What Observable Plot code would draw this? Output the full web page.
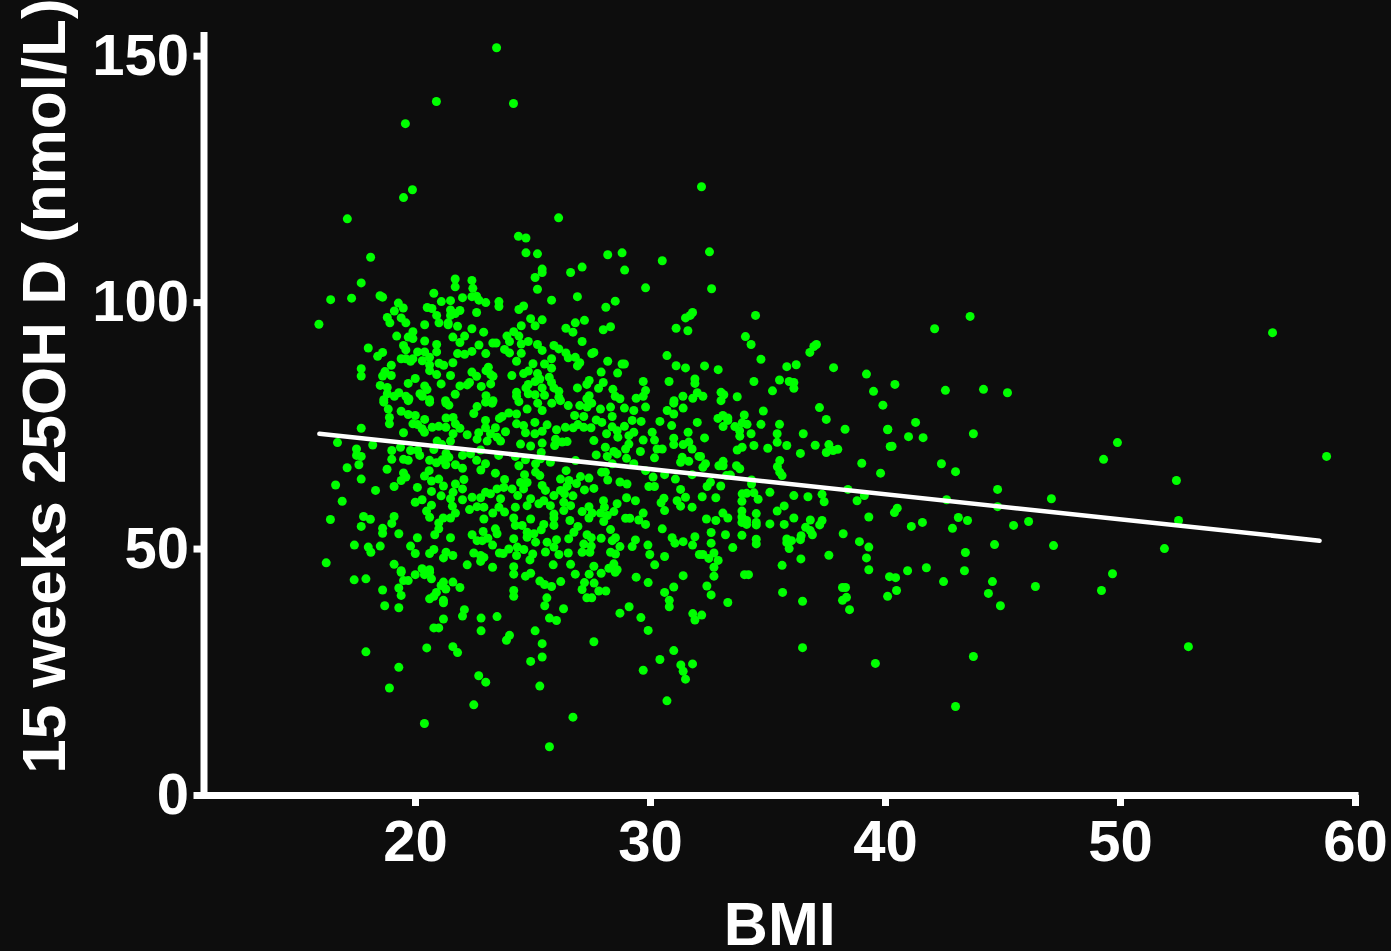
<!DOCTYPE html>
<html><head><meta charset="utf-8">
<script src="https://cdn.jsdelivr.net/npm/d3@7"></script>
<script src="https://cdn.jsdelivr.net/npm/@observablehq/plot@0.6"></script>
<style>html,body{margin:0;padding:0;background:#0d0d0d;overflow:hidden}svg{display:block}</style>
</head><body><div id="chart"></div>
<script>
const xLabel = "BMI";
const yLabel = "15 weeks 25OH D (nmol/L)";
const xTicks = [20,30,40,50,60];
const yTicks = [0,50,100,150];
const fitLine = [[15.91,73.4],[58.47,51.7]];
const upperLeft = [[18.09,109.2],[17.69,104],[16.39,100.6],[17.28,100.9],[18.49,101.4],[18.6,101.1],[19.27,99.9],[19.48,98.9],[19.1,98.3],[18.8,97],[18.91,95.9],[19.39,96.9],[19.59,95.9],[15.89,95.6],[20.78,101.9],[21.69,104.8],[21.69,103.2],[22.4,104.5],[22.44,102.9],[22.4,101.2],[22.6,101.3],[22.7,100.5],[22.99,100],[22,101],[21.49,100.4],[21.1,100.2],[20.5,99],[20.7,98.8],[20.9,97.4],[21.49,98.5],[21.89,98.4],[21.69,97.8],[21.49,97.4],[21.39,95.9],[21,95.9],[20.39,95.5],[21.39,95.5],[21.79,95.2],[22.6,98],[22.4,94.7],[22.9,94],[23.55,100.2],[23.55,99.2],[19.89,94.1],[19.2,93.2],[19.69,93],[19.89,92.7],[20.39,92.2],[21.59,93],[22.09,93.2],[21.89,91.9],[20.9,91.5],[22.7,91.4],[23.29,91.8],[23.43,91.8],[17.99,90.8],[19.49,91.3],[19.59,90.4],[18.6,89.9],[18.39,89.1],[20.09,90],[20.39,90],[20.9,90],[22.4,90.1],[21.79,89.65],[22.09,89.5],[22.99,89.65],[19.39,88.6],[19.59,88.6],[19.89,88.6],[19.79,88.1],[20.29,88.2],[20.6,88.9],[20.6,87.35],[21,87.7],[21.2,87.3],[21.59,87.8],[18.97,87.3],[17.69,86.6],[17.69,85.1],[20.6,86.2],[20.9,85.4],[21.49,85.2],[22.4,85.9],[22.6,85.05],[23.1,86.9],[23,86.2],[23.2,85.4],[23.3,85.05],[18.7,86],[18.6,85.1],[18.97,85.2],[19.99,84.6],[19.69,83.6],[18.5,83.2],[18.8,82.8],[20.39,83.1],[20.49,82.35],[21.09,83.5],[21.89,83.1],[22.2,83.3],[22.3,83.8],[22.8,83],[23.2,83.5],[18.8,81.5],[19.29,81.7],[19.1,81],[19.59,81],[20.19,81.5],[20.29,81],[21.69,81.4],[23,81.1],[18.65,80.3],[19.72,80.5],[20.6,80.3],[21.28,80.1],[23.3,80.1]];
const upperMiddle = [[24.38,113.45],[24.7,113.1],[24.7,110.1],[25.19,109.9],[28.18,109.7],[28.79,110.1],[30.5,108.5],[25.39,106.8],[25.39,106.1],[27.09,107.2],[26.6,106.1],[28.9,106.6],[25.09,105.1],[25.19,102.7],[29.79,103],[25.79,100.5],[26.89,101.2],[28.5,100.3],[28.1,99.05],[24.6,99.3],[24.4,98.6],[31.79,98],[31.49,96.9],[31.69,97.4],[24.9,96.75],[25.39,96.5],[25.09,95.3],[24.5,95.3],[27.19,96.4],[26.8,95.9],[26.4,94.8],[26.7,94],[27.99,94.5],[28.3,95.1],[31.09,94.8],[31.59,94.3],[24.18,94.1],[23.89,93.2],[24.4,93.2],[24,92.1],[24.5,91.6],[24.8,92.1],[27.09,92.1],[25.19,91.5],[25.89,91.3],[26.1,90.6],[25.39,90.3],[23.79,90.5],[24,89.8],[24.5,89.7],[26.4,89.8],[26.5,88.8],[26.8,88.9],[27.5,89.65],[27.59,89.9],[25.79,88.6],[24.3,88.1],[25,87.6],[25.49,87.55],[28.18,88.1],[26.99,87.8],[26.89,87.15],[28.79,87.55],[28.89,87.55],[30.7,89.25],[31.09,87.2],[31.49,86.75],[25.79,86.7],[27.9,85.9],[28.6,85.7],[31.89,84.5],[31.89,83.6],[24.1,85.2],[24.6,85.6],[24.8,86.1],[25.19,85.6],[25.69,84.85],[29.69,84],[30.79,84],[25.29,84.5],[25.09,84],[25.79,83.8],[27.39,84.2],[27.29,83.4],[27.99,83.8],[26.89,82.7],[27.79,82.6],[24.8,83.4],[24.7,82.7],[25.39,82.7],[25.89,82.7],[26.1,82],[28.4,82.4],[29.79,82.15],[24.3,81.8],[24.3,81],[24.8,81.5],[25.09,81.3],[25.49,81.2],[26.1,80.8],[27.39,81.1],[28.5,81],[28.7,80.5],[29.39,80.6],[29.69,81],[31.38,81],[31.99,81.7],[31.8,80.6],[27.29,80.5],[31,80.1]];
const centerLeft = [[18.65,79.8],[18.84,78.4],[19.69,80.1],[20.6,79.8],[21.3,79.6],[21.42,79.2],[22.62,78.9],[22.98,79.8],[23.26,79.6],[22.48,77.5],[19.39,77.96],[19.69,77.3],[19.99,77.1],[20.39,76.3],[18.89,76.7],[18.89,75.4],[19.89,75.4],[20.09,75.25],[21.3,76.6],[21.6,76.7],[22.98,76.1],[23.57,76.5],[21.7,75.4],[21.89,74.5],[20.71,74.7],[20.99,74.9],[21.29,74.7],[20.38,73.7],[20.28,74.4],[17.69,74.5],[19.49,73.6],[21.6,73.4],[22.2,73.2],[22.69,73.6],[22.98,74.6],[23.4,74.6],[23.19,73.4],[23.47,72.7],[22.62,72.3],[23.05,71.9],[20.92,71.9],[21.49,71.9],[16.68,71.6],[18.18,71.1],[17.49,70.3],[21.12,71.2],[19.36,70.65],[18.99,70],[19.79,70],[20.09,70],[20.18,69],[20.78,70.2],[21.3,69.4],[22,69],[22.34,69.3],[22.77,70.1],[23.54,69],[17.49,69],[17.69,68.8],[18.99,68.2],[19.49,68.2],[19.69,68],[20.6,68],[21.13,68.1],[21.42,68.6],[22.6,68],[17.59,67.1],[20.89,67.5],[21.29,67.1],[21.7,67.1],[22.98,67.3],[17.09,66.5],[22,66.4],[22.78,66.05],[23.4,65.4],[18.79,66.2],[20.58,65.9],[20.38,64.8],[19.49,65.45],[19.39,63.9],[19.59,64.6],[17.69,64.2],[20.99,64.2],[20.68,63.8],[22.06,64.1],[16.6,63],[19.09,62.7],[20.08,62.5],[21.19,62.8],[21.7,63.2],[22,62.2],[18.3,61.9],[20.68,61.7],[21.6,61.5],[23.47,62.2],[22.98,61.5],[23.19,61.2],[21.09,60.8],[21.49,60.2],[22.77,60.4],[22.41,60.5],[22,60],[16.88,59.7],[20.28,60],[19.99,59.5],[20.68,58.9],[20.47,57.7],[21.57,58.7],[22.3,58],[22.62,58.6],[22.91,58.5],[23.55,58.5],[21.7,57.3],[23.29,57.3],[20.6,56.45],[21.18,56.3],[21.49,56.3],[16.38,56],[17.79,56.6],[18.08,56.05],[19.09,56.6],[18.99,55.2],[22.91,56.1],[17.69,54.6],[20.99,55.3],[18.6,54.2],[18.6,53.2],[20.99,54.1],[19.29,53.1],[23.4,54.1],[22.88,53.55],[20.82,52.9],[22.41,52.9],[20.08,52.3],[21.49,52.3],[23.08,52.2],[22.62,51.7],[22.84,51.7],[23.47,53.1],[17.4,50.8],[18.5,50.6],[19.79,50.6],[23.28,50.8],[17.99,50.4],[18.1,49.35],[19.99,49.1],[20.78,49.9],[20.6,49.1],[21.3,49.35],[21.59,48.7],[21.19,48.2],[22.48,49.2],[22.77,48.7],[22.91,48.3],[22.77,47.5],[23.57,49.2],[16.2,47.2],[19.09,46.9],[22.2,46.8],[23.28,46.3],[20.28,46],[20.6,45.8],[19.39,45.6]];
const centerMiddle = [[24.4,79.9],[25.2,79.6],[25.8,79.6],[26.17,80.1],[26.5,79.1],[26.99,79.1],[27.3,78.8],[27.5,79.6],[27.87,78.4],[28.3,78.8],[28.89,78.6],[29.29,78.1],[29.79,78.8],[30.99,79.6],[31.39,78.6],[30.71,78.1],[30.99,77.4],[24.75,78.4],[25.39,78.1],[23.97,77.6],[24.3,77.4],[23.69,76.9],[26.77,77.1],[27.16,76.9],[28.37,76.9],[29.22,76.1],[27.69,76.2],[27.93,75.7],[29.6,75.9],[30.4,75.9],[31.99,75.7],[24.3,75.4],[24.6,75.05],[25.08,75.7],[25.6,75.2],[28.89,74.9],[28.37,74.8],[30.9,75.05],[26.38,74.7],[26.71,74.6],[26.91,75.25],[27.16,74.7],[27.47,74.6],[26,74.2],[25.39,73.9],[28.58,74],[29.29,73.7],[30.07,73.7],[31.6,73.7],[23.83,73.8],[24.68,73.6],[25.08,73.4],[28.13,73.4],[29.08,73],[28.61,72.7],[23.62,71.9],[27.59,72],[29.69,72.1],[30.17,72.1],[30.99,72.5],[25.39,71.5],[25.96,72.3],[26.45,71.8],[26.24,71.7],[24.47,71.3],[24.9,70.9],[30.99,71.2],[31.39,71.2],[31.63,71.7],[29.08,71.3],[25.92,71],[28.94,70.3],[30.28,70.3],[30.5,70.3],[31.77,70.3],[28.08,70.65],[29.57,69.8],[28.44,69.8],[28.58,69.3],[28.16,68.8],[27.69,69.1],[25.35,69.6],[24.25,68.8],[24.68,68.1],[28.98,68.4],[30.17,68.5],[31.35,68.6],[32.06,68.8],[25.32,68.3],[25.74,67.6],[31.28,67.6],[26.81,67.95],[31.63,67.8],[29.29,67.3],[25.11,67.3],[24.4,66.9],[28.37,67.3],[29.79,65.9],[26.41,65.9],[27.92,65.6],[25.11,65.6],[25.29,64.9],[28.08,65.6],[30.6,65.1],[30.11,64.6],[31.06,64.2],[31.77,65.1],[24.64,65.1],[27.02,64.7],[27.38,64.4],[26.17,64.2],[26.53,63.9],[28.18,64],[28.7,63.6],[29,63.2],[23.79,64.1],[24.47,63.5],[24.75,63.5],[25.39,62.9],[26.85,63.3],[26.45,62.7],[27.19,62],[27.59,62.3],[29.93,62.7],[30.17,62.7],[31.28,62.1],[23.76,62.5],[24.11,62.2],[24.6,62.2],[25.53,61.9],[26.17,61.9],[25.89,60.85],[26.34,61.2],[24.35,60.85],[26.7,60.8],[28.98,60.4],[29.36,59.8],[30.57,60.3],[31.13,59.8],[31.49,60.5],[24.9,60.2],[25.46,59.8],[26.31,59.5],[28,59.8],[23.62,60.2],[30.45,59.4],[24.75,58.8],[25.25,59.2],[25.74,58.8],[26.6,58.8],[26.31,57.8],[27.38,58.6],[28.58,59.2],[31.28,58.7],[31.77,58.5],[28.04,58.5],[30.6,57.8],[24.25,58.5],[27.09,57.6],[27.38,56.3],[27.52,57.3],[27.87,57.3],[28.44,57.6],[28.16,56.8],[25.89,57.1],[23.79,57.5],[29.69,57.3],[25.89,56.3],[24.9,56.1],[24.18,56.3],[28.94,56.25],[29.12,56.25],[29.5,55.9],[28.01,55.6],[26.57,55.8],[29.79,55],[25.89,54.8],[24.25,54.8],[24.54,54.8],[25.46,55],[26.91,54.6],[25.35,53.9],[28.3,53.95],[30.5,54.1],[26.74,53.4],[24.75,53.4],[25.04,53.1],[27.3,52.9],[26.52,52.1],[27.9,52.2],[27.48,52.3],[28.51,52.3],[29.36,51.85],[30.92,52.3],[31.89,52.5],[24.18,52.1],[26,51.9],[24.75,52.4],[25.11,51.4],[25.6,51.4],[27.16,51],[28.37,51.7],[29.22,50.5],[31.04,51.2],[31.39,51.5],[31.79,50.8],[23.97,50],[24.33,50.4],[24.61,49.9],[25.89,50.4],[27.48,50.6],[28.7,50.5],[29.89,50.8],[25.53,49.4],[26.1,48.9],[26.5,49.2],[27.09,49.35],[27.42,49.35],[28.3,49.35],[28.51,49],[23.73,49.1],[24.3,48.7],[24.99,49],[29.97,48.9],[30.6,48.5],[32.08,48.9],[24.87,47.8],[25.86,46.8],[26.6,46.9],[27.59,46.5],[28.44,47],[28.23,46.1],[24.18,46.4],[30.18,46.8],[28.58,45.8]];
const centerRight = [[34.28,91.5],[37.06,91.5],[36.95,91.1],[36.78,89.9],[34.7,88.5],[32.3,87.15],[32.88,86.4],[35.8,87],[36.2,87.4],[37.79,86.8],[39.19,85.5],[34.4,84],[35.49,84.3],[35.9,84],[36.1,83.8],[36.1,82.6],[35.19,82.1],[40.4,83.4],[39.49,82],[33,81.8],[33.12,81.3],[33,80.1],[33.69,80.9],[32.23,81],[39.89,79.2],[37.19,78.7],[34.8,78],[33.99,77.2],[33.08,77.1],[32.87,76.5],[33.29,76.6],[33.29,76.1],[37.48,76.3],[33.9,75.6],[34.11,75.3],[34.7,75.3],[35.49,75.3],[33.09,74.85],[33.59,74.85],[33.79,74],[38.28,74.3],[40.1,74.3],[35.39,73.4],[33.8,72.9],[34.28,73.4],[36.5,73.4],[32.3,72.55],[35.39,71.65],[34.4,71],[35.8,71],[37.01,71.05],[40.28,70.85],[37.59,71.2],[37.97,70.25],[37.77,70],[37.48,69.6],[33.9,70.65],[33.69,70.1],[34.99,70.45],[36.38,69.4],[32.13,68.8],[35.5,67.95],[35.4,66.7],[35.5,65.6],[35.6,64.9],[38.99,67.4],[39.79,65.4],[32.34,67.3],[32.91,66.9],[33.09,67.8],[33.09,66.9],[33.66,66.9],[33.8,66.3],[32.23,66.6],[33.4,65],[33.23,64.9],[34.3,64],[34.3,63.2],[32.55,63.55],[32.41,62.7],[32.99,62.8],[38.4,62.1],[35.08,61.5],[36.1,60.85],[36.7,60.6],[37.3,61.1],[37.39,59.6],[38.79,59.8],[39.1,60.85],[33.9,61.2],[34.09,61.3],[34.4,61.4],[34.58,60.1],[33.89,59.7],[32.78,60.4],[32.2,60.6],[35.69,58.75],[35.39,57.7],[40.38,57.4],[40.5,58.3],[34.5,57.2],[33.89,57.7],[33.89,56.5],[33.08,57.3],[33.29,56.3],[32.38,56.1],[32.78,55.8],[34.09,55.8],[33.89,55.4],[34.09,55],[34.5,55.4],[34.5,54.9],[35.08,55.1],[35.69,55],[36.1,56.3],[36.8,55.9],[37.3,55.8],[37.2,54.9],[39.29,56.5],[36.6,54.4],[36.8,53.75],[36.89,52.9],[36.41,52.7],[36.38,51.9],[32.58,53.35],[33.19,52.9],[33.89,52.8],[38.2,53.1],[34.5,52],[34.5,51.05],[32.58,51.2],[35.8,52.05],[36,51.7],[35.8,51.3],[35.9,50.1],[38.89,51.5],[39.29,50.4],[33.5,50.3],[32.7,49.2],[32.23,48.9],[32.48,48.1],[32.88,47.7],[32.7,46.3],[36.4,48],[37.59,48.75],[39.19,48.2],[35.6,46.7],[39.29,45.8]];
const lowerLeft = [[17.39,43.75],[17.89,43.95],[19.39,45.3],[19.49,43.6],[19.69,43.6],[19.99,44.8],[20.38,44.8],[20.6,45.3],[20.68,43.95],[18.6,41.7],[19.29,42.1],[19.39,40.6],[21.19,43.3],[21.59,43.3],[21.89,42.2],[21.09,42.6],[21.29,41.9],[20.89,41.2],[20.78,40.4],[20.6,39.9],[21.19,39.6],[21.19,39.1],[18.69,38.5],[19.29,38.1],[22.08,37.7],[22,36.4],[21.19,35.8],[22.79,36],[23.47,36.3],[22.79,33.4],[20.78,34],[20.99,34],[21.59,30.2],[21.79,29],[20.48,29.95],[17.89,29.15],[19.29,26],[18.89,21.8],[22.69,24.3],[22.99,23],[22.48,18.4],[20.38,14.6]];
const lowerMiddle = [[24.18,44.9],[24.68,44.5],[24.9,45.1],[25.29,43.5],[25.49,42.8],[25.79,42.4],[26.18,43.4],[26.8,44.9],[27.39,44.9],[27.9,45.1],[28.5,45.3],[27.19,43.2],[27.6,43.1],[29.39,44.3],[29.9,43.2],[31.39,44.6],[32.7,44.5],[24.18,41.6],[24.18,40.4],[27.09,41.8],[27.8,41.5],[28.1,41.5],[30.6,41.2],[30.99,42.3],[32.4,42.5],[32.58,40.7],[27.29,40.1],[27.5,40.1],[25.59,40.1],[30.8,39.6],[30.8,38.3],[33.29,39.15],[25.5,38.5],[26.3,37.9],[29.09,38.3],[28.7,37],[31.8,36.9],[32.18,36.6],[31.89,35.6],[29.59,36.1],[25.7,36],[26,35.5],[29.9,33.5],[25.09,33.4],[24,32.5],[23.87,31.5],[25.39,30.8],[27.59,31.2],[30.99,29.4],[30.4,27.6],[25.39,28.1],[24.9,27.2],[31.79,26.7],[31.29,26.5],[31.39,25.2],[31.49,23.6],[29.69,25.4],[25.29,22.2],[30.7,19.2],[26.7,15.9],[25.7,9.9]];
const sparse = [[23.45,151.7],[20.89,140.8],[24.17,140.4],[19.57,136.3],[19.49,121.3],[19.87,122.9],[17.1,117],[26.09,117.2],[32.17,123.5],[32.51,110.3],[32.6,102.8],[34.47,97.4],[34.04,93.1],[42.09,94.7],[43.6,97.2],[56.47,93.9],[42.55,82.2],[44.17,82.4],[45.19,81.7],[58.77,68.8],[41.28,75.7],[40.98,72.8],[41.6,72.6],[40.09,74.2],[40.2,70.8],[43.74,73.4],[42.38,67.3],[42.98,65.7],[49.87,71.6],[49.28,68.2],[52.38,63.9],[44.77,62.1],[47.06,60.2],[42.6,60],[44.77,58.6],[43.1,56.4],[43.49,55.8],[41.57,55.4],[41.1,54.6],[42.85,54.2],[45.45,54.8],[46.09,55.6],[52.47,55.8],[44.64,50.9],[47.15,50.7],[43.4,49.3],[51.87,50.1],[40.94,45.6],[41.74,46.2],[43.36,45.6],[49.66,45],[42.47,43.4],[40.43,44.2],[40.17,44.4],[44.55,43.4],[46.38,42.4],[40.09,40.4],[40.47,41.6],[44.38,41],[49.19,41.6],[44.89,38.5],[52.89,30.2],[39.57,26.8],[43.74,28.2],[42.98,18.05],[35.62,41.2],[36.47,39.4],[38.17,42.2],[38.3,42.2],[38.17,39.6],[38.34,40.2],[38.47,37.7],[36.47,30],[34,44.8],[34.17,44.8]];
const points = [...upperLeft,...upperMiddle,...centerLeft,...centerMiddle,...centerRight,...lowerLeft,...lowerMiddle,...sparse];
const white = "#ffffff", green = "#00ff00", ground = "#0d0d0d";
const font = "'Liberation Sans', Arial, sans-serif";
const chart = Plot.plot({
  width: 1391, height: 951,
  marginLeft: 203.5, marginRight: 36, marginTop: 32, marginBottom: 156,
  style: {background: ground, color: white, fontFamily: font, fontWeight: "bold", overflow: "visible"},
  x: {domain: [11, 60], range: [203.5, 1355], ticks: xTicks},
  y: {domain: [0, 154.8], range: [795, 32], ticks: yTicks},
  marks: [
    Plot.dot(points, {x: d => d[0], y: d => d[1], r: 4.5, fill: green, stroke: "none"}),
    Plot.line(fitLine, {x: d => d[0], y: d => d[1], stroke: white, strokeWidth: 4.5}),
    Plot.ruleX([11], {y1: 0, y2: 154.8, stroke: white, strokeWidth: 7}),
    Plot.ruleY([0], {x1: 10.85, x2: 60.15, stroke: white, strokeWidth: 7}),
    Plot.axisX({ticks: xTicks, tickSize: 11, tickPadding: 13, fontSize: 58, strokeWidth: 7, stroke: white, fill: white, label: null, tickFormat: d => d}),
    Plot.axisY({ticks: yTicks, tickSize: 10, tickPadding: 5, fontSize: 58, strokeWidth: 7, stroke: white, fill: white, label: null, tickFormat: d => d}),
    Plot.text([xLabel], {frameAnchor: "bottom", dy: 149, fontSize: 61, fill: white, fontWeight: "bold", lineAnchor: "bottom"}),
    Plot.text([yLabel], {frameAnchor: "left", textAnchor: "middle", rotate: -90, dx: -139, dy: -28, fontSize: 62, fill: white, fontWeight: "bold", lineAnchor: "bottom"})
  ]
});
document.getElementById("chart").appendChild(chart);
</script></body></html>
